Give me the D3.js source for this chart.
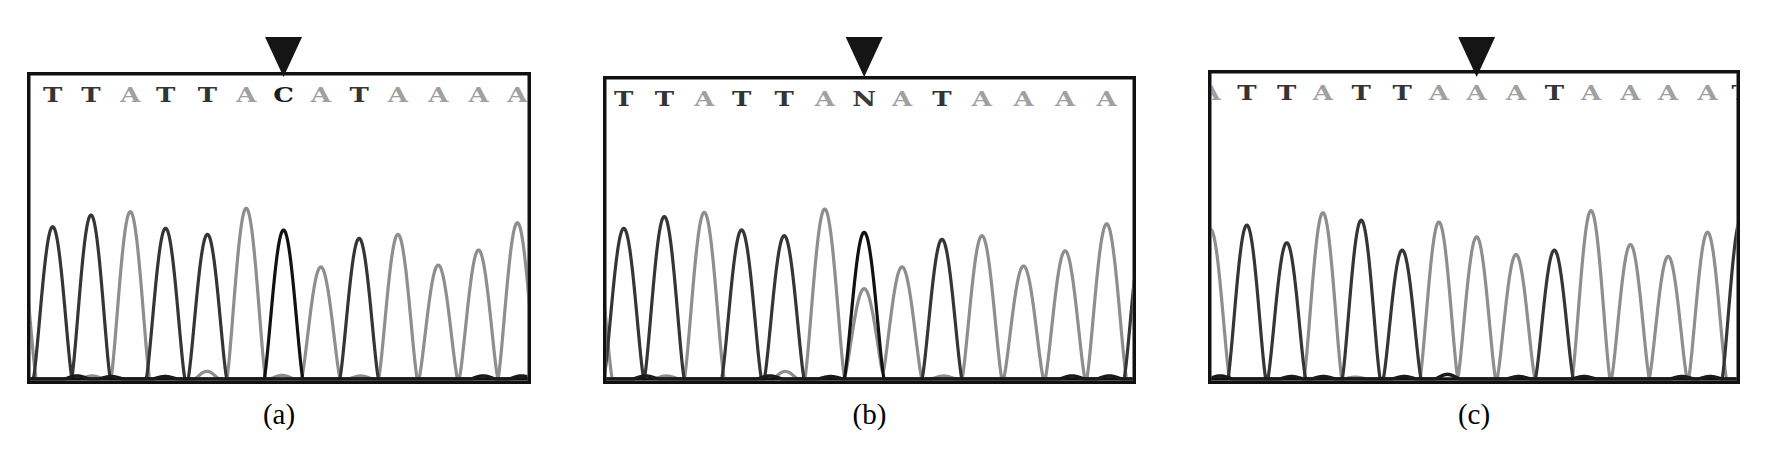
<!DOCTYPE html>
<html>
<head>
<meta charset="utf-8">
<script src="https://cdn.jsdelivr.net/npm/d3@7/dist/d3.min.js"></script>
<style>
  html, body { margin: 0; padding: 0; background: #fff; }
  svg { display: block; }
</style>
</head>
<body>
<script>
// ---------------- DATA ----------------
// positions are in per-mille of the panel width, heights in per-mille of panel height above baseline
const panelLabels = ["(a)", "(b)", "(c)"];

// Panel (a)
const callsA   = ["A", "T", "T", "A", "T", "T", "A", "C", "A", "T", "A", "A", "A", "A"];
const posA     = [-20, 51, 127, 205, 275, 358, 435, 509, 583, 659, 736, 816, 896, 973];
const heightA  = [500, 496, 534, 545, 491, 471, 556, 485, 365, 458, 471, 371, 420, 509];
const minorBaseA = ["A", "A", "A", "A", "G", "G", "G", "G", "G"];
const minorPosA  = [129, 357, 506, 662, 99, 167, 274, 905, 981];
const minorHA    = [10, 25, 12, 10, 10, 8, 8, 10, 10];
const markerA = 509;

// Panel (b)
const callsB   = ["A", "T", "T", "A", "T", "T", "A", "N", "A", "T", "A", "A", "A", "A", "T"];
const traceB   = ["A", "T", "T", "A", "T", "T", "A", "C", "A", "T", "A", "A", "A", "A", "T"];
const posB     = [-20, 39, 115, 190, 260, 340, 416, 490, 561, 636, 711, 789, 867, 945, 1015];
const heightB  = [500, 497, 536, 550, 492, 473, 561, 484, 370, 461, 473, 373, 423, 512, 500];
const secondBaseB = ["A"];
const secondPosB  = [490];
const secondHB    = [298];
const minorBaseB = ["A", "A", "A", "G", "G", "G", "G", "G"];
const minorPosB  = [119, 342, 639, 80, 313, 427, 880, 950];
const minorHB    = [10, 25, 10, 10, 10, 8, 10, 10];
const markerB = 490;

// Panel (c)
const callsC   = ["A", "T", "T", "A", "T", "T", "A", "A", "A", "T", "A", "A", "A", "A", "T"];
const posC     = [5, 73, 148, 216, 288, 365, 434, 505, 579, 651, 720, 794, 865, 939, 1002];
const heightC  = [484, 498, 441, 538, 514, 417, 508, 460, 403, 417, 545, 435, 397, 475, 520];
const minorBaseC = ["G", "G", "G", "G", "G", "G", "G", "G", "G", "A"];
const minorPosC  = [23, 157, 217, 369, 450, 584, 707, 891, 944, 277];
const minorHC    = [10, 8, 8, 8, 15, 8, 8, 8, 8, 6];
const markerC = 505;

// ---------------- LAYOUT / STYLE ----------------
const W = 1768, H = 451;
const frames = [
  { x0: 27,   x1: 531,  y0: 72, y1: 384 },
  { x0: 603,  x1: 1136, y0: 76, y1: 384 },
  { x0: 1208, x1: 1740, y0: 70, y1: 384 }
];
const traceColor  = { A: "#8e8e8e", T: "#353535", C: "#111111", G: "#1a1a1a" };
const letterColor = { A: "#a0a0a0", T: "#343434", C: "#1c1c1c", N: "#3a3a3a", G: "#111111" };
const drawOrder = ["A", "T", "C", "G"];

const panels = [
  { calls: callsA, trace: callsA, pos: posA, h: heightA,
    second: { base: [], pos: [], h: [] },
    minor: { base: minorBaseA, pos: minorPosA, h: minorHA }, marker: markerA },
  { calls: callsB, trace: traceB, pos: posB, h: heightB,
    second: { base: secondBaseB, pos: secondPosB, h: secondHB },
    minor: { base: minorBaseB, pos: minorPosB, h: minorHB }, marker: markerB },
  { calls: callsC, trace: callsC, pos: posC, h: heightC,
    second: { base: [], pos: [], h: [] },
    minor: { base: minorBaseC, pos: minorPosC, h: minorHC }, marker: markerC }
];

const svg = d3.select("body").append("svg")
  .attr("width", W).attr("height", H)
  .attr("viewBox", `0 0 ${W} ${H}`);
svg.append("rect").attr("width", W).attr("height", H).attr("fill", "#fff");

// peak shape: rounded top, straight-ish flanks that meet the baseline at an angle
function shape(u) {
  u = Math.abs(u);
  if (u >= 1) return 0;
  return Math.pow(Math.cos(Math.PI / 2 * u), 1.3);
}

const bw = 3.5; // border width

panels.forEach((p, i) => {
  const f = frames[i];
  const x = d3.scaleLinear().domain([0, 1000]).range([f.x0, f.x1]);
  const y = d3.scaleLinear().domain([0, 1000]).range([f.y1 - 5, f.y0]);
  const diffs = d3.pairs(p.pos).map(([a, b]) => b - a);
  const spacing = d3.median(diffs);
  const halfW = 0.5 * spacing;

  const peaks = [];
  p.pos.forEach((ps, k) => peaks.push({ ch: p.trace[k], pos: ps, h: p.h[k], w: halfW }));
  p.second.pos.forEach((ps, k) => peaks.push({ ch: p.second.base[k], pos: ps, h: p.second.h[k], w: halfW }));
  p.minor.pos.forEach((ps, k) => peaks.push({ ch: p.minor.base[k], pos: ps, h: p.minor.h[k], w: 0.32 * spacing }));

  const g = svg.append("g");
  const clipId = "clip" + i;
  g.append("clipPath").attr("id", clipId).append("rect")
    .attr("x", f.x0 + bw).attr("y", f.y0 + bw)
    .attr("width", f.x1 - f.x0 - 2 * bw).attr("height", f.y1 - f.y0 - 2 * bw);

  const inner = g.append("g").attr("clip-path", `url(#${clipId})`);

  const xs = d3.range(-60, 1060.5, 0.5);
  const line = d3.line().x(d => x(d[0])).y(d => y(d[1]));

  drawOrder.forEach(ch => {
    const ps = peaks.filter(q => q.ch === ch);
    const pts = xs.map(t => [t, d3.sum(ps, q => q.h * shape((t - q.pos) / q.w))]);
    inner.append("path")
      .attr("d", line(pts))
      .attr("fill", "none")
      .attr("stroke", traceColor[ch])
      .attr("stroke-width", ch === "G" ? 3.5 : 3.2)
      .attr("stroke-linejoin", "round");
  });

  // base calls
  inner.selectAll("text.call").data(p.calls.map((c, k) => ({ c, pos: p.pos[k] })))
    .join("text")
    .attr("class", "call")
    .attr("transform", d => `translate(${x(d.pos)},${f.y0 + 30}) scale(1.3,1)`)
    .attr("text-anchor", "middle")
    .attr("font-family", "'DejaVu Serif', serif")
    .attr("font-weight", "bold")
    .attr("font-size", 20)
    .attr("fill", d => letterColor[d.c])
    .text(d => d.c);

  // frame
  g.append("rect")
    .attr("x", f.x0 + bw / 2).attr("y", f.y0 + bw / 2)
    .attr("width", f.x1 - f.x0 - bw).attr("height", f.y1 - f.y0 - bw)
    .attr("fill", "none").attr("stroke", "#111").attr("stroke-width", bw);

  // marker triangle
  const cx = x(p.marker);
  g.append("path")
    .attr("d", d3.line()([[cx - 18.5, 37], [cx + 18.5, 37], [cx, 77]]) + "Z")
    .attr("fill", "#151515");

  // panel label
  g.append("text")
    .attr("x", (f.x0 + f.x1) / 2)
    .attr("y", 424)
    .attr("text-anchor", "middle")
    .attr("font-family", "'Liberation Serif', 'Times New Roman', serif")
    .attr("font-size", 29)
    .attr("fill", "#000")
    .text(panelLabels[i]);
});
</script>
</body>
</html>
